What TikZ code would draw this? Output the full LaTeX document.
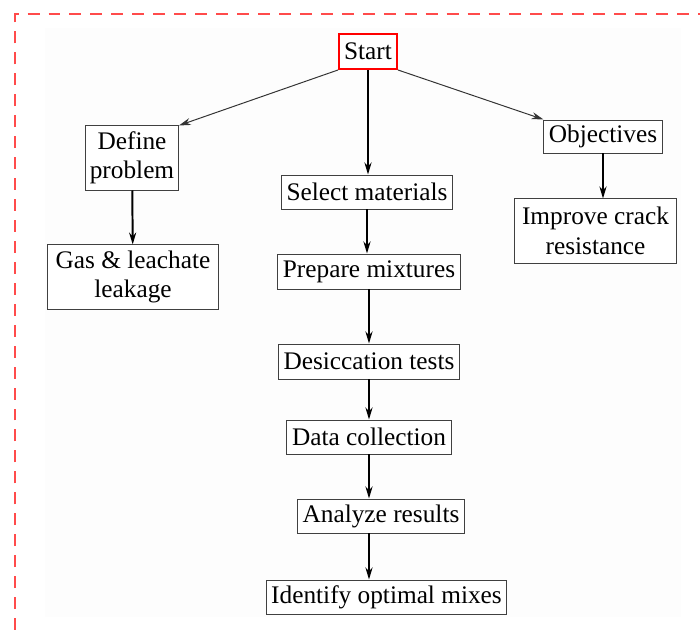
\documentclass[tikz,border=0pt]{standalone}
\usepackage{fontspec}
\setmainfont{Liberation Serif}
\usetikzlibrary{arrows.meta,positioning}
\definecolor{framered}{HTML}{FF4B4B}
\definecolor{boxline}{HTML}{404040}
\definecolor{panel}{HTML}{FDFDFD}
\tikzset{
  stepbox/.style={draw=boxline,fill=white,line width=0.7pt,
                  minimum height=0.85cm,inner xsep=3pt,inner ysep=2pt,
                  align=center,font=\fontsize{18}{21}\selectfont},
  startbox/.style={stepbox,draw=red,line width=1.4pt},
  mainarr/.style={-{Stealth[length=8.5pt,width=5pt]},line width=1.4pt},
  sidearr/.style={-{Stealth[length=8.5pt,width=5pt]},line width=0.7pt,color=black!80}
}
\begin{document}
\begin{tikzpicture}[x=0.025cm,y=-0.025cm]
  \useasboundingbox (0,0) rectangle (700,630);
  % frame
  \fill[panel] (45,28) rectangle (681,617);
  \draw[framered,line width=1.6pt,dash pattern=on 8.5pt off 6.4pt]
    (15,630) -- (15,14) -- (700,14);

  % top
  \node[startbox,minimum width=1.45cm,minimum height=0.875cm] (start) at (368,51.5) {Start};

  % left branch
  \node[stepbox,minimum width=2.3cm,minimum height=1.6cm] (define) at (132,158) {Define\\problem};
  \node[stepbox,minimum width=4.25cm,minimum height=1.6cm] (gas) at (133,277) {Gas \& leachate\\leakage};

  % right branch
  \node[stepbox,minimum width=2.95cm,minimum height=0.825cm] (obj) at (603,136.5) {Objectives};
  \node[stepbox,minimum width=4.025cm,minimum height=1.6cm] (improve) at (595.5,231) {Improve crack\\resistance};

  % main column
  \node[stepbox,minimum width=4.25cm] (select) at (367,192) {Select materials};
  \node[stepbox,minimum width=4.55cm,minimum height=0.875cm] (prepare) at (369,271.5) {Prepare mixtures};
  \node[stepbox,minimum width=4.5cm,minimum height=0.875cm] (desic) at (369,361.5) {Desiccation tests};
  \node[stepbox,minimum width=4.1cm] (data) at (369,437) {Data collection};
  \node[stepbox,minimum width=4.15cm] (analyze) at (381,516) {Analyze results};
  \node[stepbox,minimum width=5.975cm] (identify) at (386.5,597) {Identify optimal mixes};

  % connectors
  \draw[sidearr] (start.south west) -- (define.north east);
  \draw[sidearr] (start.south east) -- (obj.north west);
  \draw[mainarr] (start.south) -- (start.south |- select.north);
  \draw[mainarr] (define) -- (gas);
  \draw[mainarr] (obj.south) -- (obj.south |- improve.north);
  \foreach \a/\b in {select/prepare,prepare/desic,desic/data,data/analyze}
    \draw[mainarr] (\a.south) -- (\a.south |- \b.north);
  \draw[mainarr] (analyze.south -| data.south) -- (data.south |- identify.north);
\end{tikzpicture}
\end{document}
